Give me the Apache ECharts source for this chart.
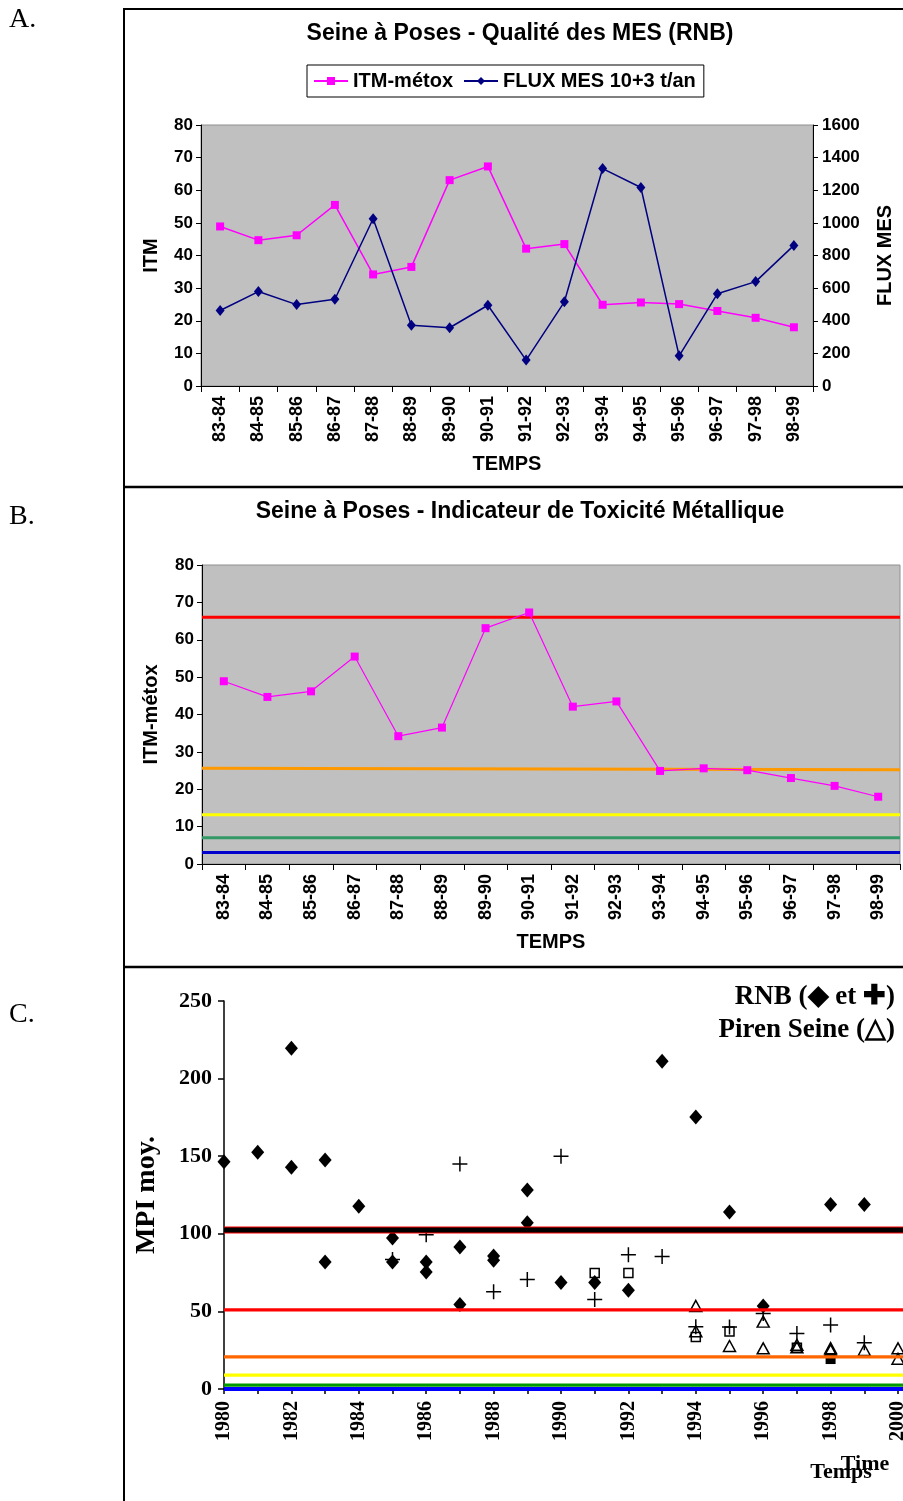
<!DOCTYPE html>
<html>
<head>
<meta charset="utf-8">
<script src="https://cdn.jsdelivr.net/npm/echarts@6/dist/echarts.min.js"></script>
<style>
  html, body { margin: 0; padding: 0; background: #fff; }
  #main { width: 903px; height: 1501px; }
</style>
</head>
<body>
<div id="main"></div>
<script>
// Hydrological seasons (A and B)
const seasons = ['83-84','84-85','85-86','86-87','87-88','88-89','89-90','90-91',
                 '91-92','92-93','93-94','94-95','95-96','96-97','97-98','98-99'];
// Metal toxicity index of suspended matter
const itmMetox = [48.9, 44.7, 46.2, 55.5, 34.2, 36.5, 63.1, 67.3, 42.1, 43.5, 24.9, 25.6, 25.1, 23.0, 20.9, 18.0];
// Suspended matter flux, 10^3 t/yr
const fluxMes = [463, 579, 499, 532, 1025, 373, 357, 495, 159, 516, 1333, 1217, 185, 565, 640, 862];

// Quality class limits for ITM-métox (start value, end value)
const limitsB = [[66.0, 66.0], [25.6, 25.2], [13.2, 13.2], [7.0, 7.0], [3.1, 3.1]];
const limitColorsB = ['#ff0000', '#ff9900', '#ffff00', '#339966', '#0000cc'];

// Mean MPI: RNB stations (diamonds and crosses), Piren Seine (triangles, squares)
const rnbDiamonds = [[1980,146.5],[1981,152.5],[1982,219.6],[1982,142.9],[1983,147.6],[1983,81.8],
  [1984,117.8],[1985,97.3],[1985,81.8],[1986,81.8],[1986,75.4],[1987,91.5],[1987,54.4],
  [1988,85.7],[1988,82.9],[1989,128.3],[1989,107.1],[1990,68.6],[1991,68.6],[1992,63.6],
  [1993,211.2],[1994,175.2],[1995,114.0],[1996,53.5],[1998,118.9],[1999,118.9]];
const rnbCrosses = [[1985,83.5],[1986,99.4],[1987,145.0],[1988,62.6],[1989,70.5],[1990,149.9],
  [1991,57.6],[1992,86.5],[1993,85.3],[1994,40.1],[1995,40.0],[1996,48.7],[1997,35.8],
  [1998,41.2],[1999,29.8]];
const openSquares = [[1991,74.8],[1992,74.8],[1994,33.5],[1995,37.0],[1997,26.5]];
const filledSquares = [[1998,19.3]];
const pirenTriangles = [[1994,53.5],[1994,37.2],[1995,27.7],[1996,43.4],[1996,26.2],[1997,28.5],
  [1997,26.8],[1998,26.3],[1998,25.0],[1999,25.1],[2000,26.2],[2000,19.5]];

// MPI class limits
const limitsC = [102.5, 51.0, 20.7, 9.0, 2.5, 0];
const limitColorsC = ['#000000', '#ff0000', '#ff6600', '#ffff00', '#009900', '#0000ff'];

const SANS = 'Liberation Sans';
const SERIF = 'Liberation Serif';

const chart = echarts.init(document.getElementById('main'), null, { renderer: 'canvas' });

const sansBold = (size) => ({ fontFamily: SANS, fontWeight: 'bold', fontSize: size, color: '#000' });
const serifBold = (size) => ({ fontFamily: SERIF, fontWeight: 'bold', fontSize: size, color: '#000' });
const blackLine = { show: true, lineStyle: { color: '#000', width: 1 } };
const plain = (v) => String(v);

const seriesList = [];

// Panel A
seriesList.push({
  name: 'ITM-métox', type: 'line', xAxisIndex: 0, yAxisIndex: 0, data: itmMetox,
  symbol: 'rect', symbolSize: 8, itemStyle: { color: '#ff00ff' },
  lineStyle: { color: '#ff00ff', width: 1.5 }, z: 3
});
seriesList.push({
  name: 'FLUX MES 10+3 t/an', type: 'line', xAxisIndex: 0, yAxisIndex: 1, data: fluxMes,
  symbol: 'diamond', symbolSize: [9, 11], itemStyle: { color: '#000080' },
  lineStyle: { color: '#000080', width: 1.5 }, z: 3
});

// Panel B limits
limitsB.forEach((pair, i) => {
  seriesList.push({
    type: 'line', xAxisIndex: 2, yAxisIndex: 2, data: [[0, pair[0]], [1, pair[1]]],
    symbol: 'none', silent: true, clip: false, z: 2,
    lineStyle: { color: limitColorsB[i], width: 3 }
  });
});
seriesList.push({
  type: 'line', xAxisIndex: 1, yAxisIndex: 2, data: itmMetox,
  symbol: 'rect', symbolSize: 8, itemStyle: { color: '#ff00ff' },
  lineStyle: { color: '#ff00ff', width: 1.2 }, z: 4
});

// Panel C markers
const openStyle = { color: 'rgba(0,0,0,0)', borderColor: '#000', borderWidth: 1.5, opacity: 1 };
seriesList.push({
  type: 'scatter', xAxisIndex: 3, yAxisIndex: 3, data: rnbDiamonds,
  symbol: 'diamond', symbolSize: [13, 15], itemStyle: { color: '#000', opacity: 1 }, z: 2
});
seriesList.push({
  type: 'scatter', xAxisIndex: 3, yAxisIndex: 3, data: rnbCrosses,
  symbol: 'path://M7.2,0h1.6v7.2h7.2v1.6h-7.2v7.2h-1.6v-7.2h-7.2v-1.6h7.2z',
  symbolSize: 15, itemStyle: { color: '#000', opacity: 1 }, z: 2
});
seriesList.push({
  type: 'scatter', xAxisIndex: 3, yAxisIndex: 3, data: openSquares,
  symbol: 'rect', symbolSize: 9, itemStyle: openStyle, z: 2
});
seriesList.push({
  type: 'scatter', xAxisIndex: 3, yAxisIndex: 3, data: filledSquares,
  symbol: 'rect', symbolSize: 10, itemStyle: { color: '#000', opacity: 1 }, z: 2
});
seriesList.push({
  type: 'scatter', xAxisIndex: 3, yAxisIndex: 3, data: pirenTriangles,
  symbol: 'triangle', symbolSize: [12, 11], itemStyle: openStyle, z: 2
});

// Panel C limits (the top limit has a thin red edge around the black band)
seriesList.push({
  type: 'line', xAxisIndex: 4, yAxisIndex: 4, data: [[0, limitsC[0]], [1, limitsC[0]]],
  symbol: 'none', silent: true, clip: false, z: 5, lineStyle: { color: '#ff0000', width: 7 }
});
limitsC.forEach((v, i) => {
  seriesList.push({
    type: 'line', xAxisIndex: 4, yAxisIndex: 4, data: [[0, v], [1, v]],
    symbol: 'none', silent: true, clip: false, z: 6,
    lineStyle: { color: limitColorsC[i], width: i === 0 ? 5 : (i === 5 ? 4 : 3.3) }
  });
});

const catAxis = (gridIndex) => ({
  type: 'category', gridIndex, data: seasons, boundaryGap: true,
  name: 'TEMPS', nameLocation: 'middle', nameGap: 68, nameTextStyle: sansBold(20),
  axisLine: blackLine,
  axisTick: { show: true, inside: false, length: 6, alignWithLabel: false, lineStyle: { color: '#000' } },
  axisLabel: { rotate: 90, interval: 0, margin: 10, ...sansBold(18) },
  splitLine: { show: false }
});

const option = {
  animation: false,
  backgroundColor: '#ffffff',
  legend: {
    data: ['ITM-métox', 'FLUX MES 10+3 t/an'],
    left: 307, top: 65,
    padding: [6, 8, 6, 6],
    itemGap: 10, itemWidth: 34, itemHeight: 10,
    borderColor: '#000', borderWidth: 1,
    textStyle: sansBold(20)
  },
  grid: [
    { left: 201, top: 125, width: 612, height: 261, outerBoundsMode: 'none', show: true, backgroundColor: '#c0c0c0', borderColor: '#909090', borderWidth: 1 },
    { left: 202, top: 565, width: 698, height: 299, outerBoundsMode: 'none', show: true, backgroundColor: '#c0c0c0', borderColor: '#909090', borderWidth: 1 },
    { left: 224, top: 1001, width: 674, height: 388, outerBoundsMode: 'none' },
    { left: 224, top: 1001, width: 679, height: 388, outerBoundsMode: 'none' }
  ],
  xAxis: [
    catAxis(0),
    catAxis(1),
    { type: 'value', gridIndex: 1, min: 0, max: 1, show: false },
    {
      type: 'value', gridIndex: 2, min: 1980, max: 2000, interval: 2,
      axisLine: { show: true, lineStyle: { color: '#000', width: 1.5 } },
      axisTick: { show: true, length: 5, lineStyle: { color: '#000', width: 1.5 } },
      minorTick: { show: true, splitNumber: 2, length: 5, lineStyle: { color: '#000', width: 1.5 } },
      axisLabel: { rotate: 90, margin: 12, ...serifBold(20), formatter: plain },
      splitLine: { show: false }, minorSplitLine: { show: false }
    },
    { type: 'value', gridIndex: 3, min: 0, max: 1, show: false }
  ],
  yAxis: [
    {
      type: 'value', gridIndex: 0, min: 0, max: 80, interval: 10, position: 'left',
      name: 'ITM', nameLocation: 'middle', nameGap: 40, nameRotate: 90, nameTextStyle: sansBold(20),
      axisLine: blackLine, axisTick: { show: true, length: 5, lineStyle: { color: '#000' } },
      axisLabel: { margin: 8, ...sansBold(17), formatter: plain }, splitLine: { show: false }
    },
    {
      type: 'value', gridIndex: 0, min: 0, max: 1600, interval: 200, position: 'right',
      name: 'FLUX MES', nameLocation: 'middle', nameGap: 62, nameRotate: 90, nameTextStyle: sansBold(20),
      axisLine: blackLine, axisTick: { show: true, length: 5, lineStyle: { color: '#000' } },
      axisLabel: { margin: 9, ...sansBold(17), formatter: plain }, splitLine: { show: false }
    },
    {
      type: 'value', gridIndex: 1, min: 0, max: 80, interval: 10,
      name: 'ITM-métox', nameLocation: 'middle', nameGap: 41, nameRotate: 90, nameTextStyle: sansBold(20),
      axisLine: blackLine, axisTick: { show: true, length: 5, lineStyle: { color: '#000' } },
      axisLabel: { margin: 8, ...sansBold(17), formatter: plain }, splitLine: { show: false }
    },
    {
      type: 'value', gridIndex: 2, min: 0, max: 250, interval: 50,
      name: 'MPI moy.', nameLocation: 'middle', nameGap: 63, nameRotate: 90, nameTextStyle: serifBold(28),
      axisLine: { show: true, lineStyle: { color: '#000', width: 1.5 } },
      axisTick: { show: true, length: 6, lineStyle: { color: '#000', width: 1.5 } },
      axisLabel: { margin: 12, ...serifBold(22), formatter: plain }, splitLine: { show: false }
    },
    { type: 'value', gridIndex: 3, min: 0, max: 250, show: false }
  ],
  series: seriesList,
  graphic: [
    // panel frames
    { type: 'line', shape: { x1: 124, y1: 8, x2: 124, y2: 1501 }, style: { stroke: '#000', lineWidth: 2 }, z: 10 },
    { type: 'line', shape: { x1: 123, y1: 9, x2: 903, y2: 9 }, style: { stroke: '#000', lineWidth: 2 }, z: 10 },
    { type: 'line', shape: { x1: 123, y1: 487, x2: 903, y2: 487 }, style: { stroke: '#000', lineWidth: 2.5 }, z: 10 },
    { type: 'line', shape: { x1: 123, y1: 967, x2: 903, y2: 967 }, style: { stroke: '#000', lineWidth: 2.5 }, z: 10 },
    // panel letters
    { type: 'text', x: 9, y: 20, style: { text: 'A.', font: '28px "Liberation Serif"', fill: '#000', align: 'left', verticalAlign: 'middle' } },
    { type: 'text', x: 9, y: 517, style: { text: 'B.', font: '28px "Liberation Serif"', fill: '#000', align: 'left', verticalAlign: 'middle' } },
    { type: 'text', x: 9, y: 1015, style: { text: 'C.', font: '28px "Liberation Serif"', fill: '#000', align: 'left', verticalAlign: 'middle' } },
    // titles
    { type: 'text', x: 520, y: 34, style: { text: 'Seine à Poses - Qualité des MES (RNB)', font: 'bold 23px "Liberation Sans"', fill: '#000', align: 'center', verticalAlign: 'middle' } },
    { type: 'text', x: 520, y: 512, style: { text: 'Seine à Poses - Indicateur de Toxicité Métallique', font: 'bold 23px "Liberation Sans"', fill: '#000', align: 'center', verticalAlign: 'middle' } },
    // panel C key
    { type: 'text', x: 895, y: 997, style: { text: 'RNB (◆ et ✚)', font: 'bold 27px "Liberation Serif"', fill: '#000', align: 'right', verticalAlign: 'middle' }, z: 10 },
    { type: 'text', x: 895, y: 1030, style: { text: 'Piren Seine (△)', font: 'bold 27px "Liberation Serif"', fill: '#000', align: 'right', verticalAlign: 'middle' }, z: 10 },
    // panel C time axis titles
    { type: 'text', x: 865, y: 1464, style: { text: 'Time', font: 'bold 22px "Liberation Serif"', fill: '#000', align: 'center', verticalAlign: 'middle' } },
    { type: 'text', x: 841, y: 1472, style: { text: 'Temps', font: 'bold 22px "Liberation Serif"', fill: '#000', align: 'center', verticalAlign: 'middle' } }
  ]
};

chart.setOption(option);
</script>
</body>
</html>
